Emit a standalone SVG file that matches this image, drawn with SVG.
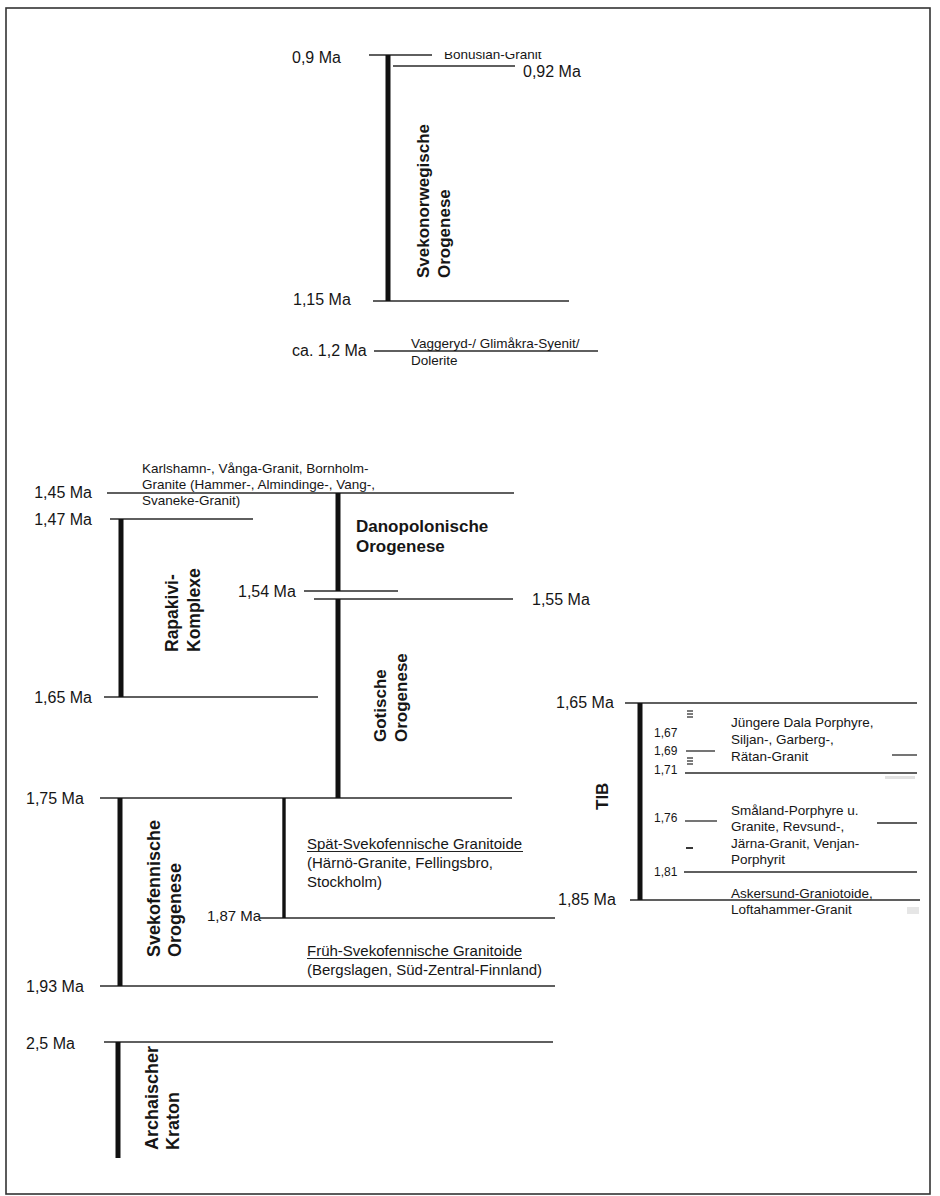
<svg xmlns="http://www.w3.org/2000/svg" width="940" height="1196" viewBox="0 0 940 1196">
<style>
.ln{stroke:#2a2a2a;stroke-width:1.3;fill:none}
.bar{stroke:#111;stroke-width:5;fill:none}
.bar3{stroke:#111;stroke-width:3.4;fill:none}
.tk{stroke:#222;stroke-width:1.2;fill:none}
text{font-family:"Liberation Sans",Arial,sans-serif;fill:#161616}
.lab{font-size:16px}
.sm{font-size:13.5px}
.md{font-size:15px}
.xs{font-size:12px}
.vt{font-size:17px;font-weight:bold}
.vt2{font-size:18px;font-weight:bold}
</style>
<defs>
<clipPath id="cutTop"><rect x="430" y="52" width="140" height="20"/></clipPath>
</defs>
<rect x="6" y="8" width="924" height="1186" fill="#fff" stroke="#333" stroke-width="1.6"/>

<g id="connectors">
<line class="ln" x1="369" y1="55" x2="432" y2="55"/>
<line class="ln" x1="393" y1="66" x2="515" y2="66"/>
<line class="ln" x1="373" y1="301" x2="569" y2="301"/>
<line class="ln" x1="374" y1="351" x2="598" y2="351"/>
<line class="ln" x1="107" y1="493" x2="514" y2="493"/>
<line class="ln" x1="110" y1="519" x2="253" y2="519"/>
<line class="ln" x1="104" y1="697" x2="318" y2="697"/>
<line class="ln" x1="304" y1="591" x2="398" y2="591"/>
<line class="ln" x1="314" y1="599" x2="513" y2="599"/>
<line class="ln" x1="100" y1="798" x2="512" y2="798"/>
<line class="ln" x1="260" y1="918" x2="555" y2="918"/>
<line class="ln" x1="100" y1="986" x2="555" y2="986"/>
<line class="ln" x1="104" y1="1042" x2="553" y2="1042"/>
<line class="ln" x1="625" y1="703" x2="917" y2="703"/>
<line class="ln" x1="686" y1="751" x2="715" y2="751"/>
<line class="ln" x1="892" y1="755" x2="917" y2="755"/>
<line class="ln" x1="685" y1="773" x2="917" y2="773"/>
<line class="ln" x1="685" y1="821" x2="717" y2="821"/>
<line class="ln" x1="877" y1="823" x2="917" y2="823"/>
<line class="ln" x1="684" y1="872" x2="917" y2="872"/>
<line class="ln" x1="630" y1="900" x2="920" y2="900"/>
<line class="tk" x1="687" y1="711" x2="693" y2="711"/>
<line class="tk" x1="687" y1="714" x2="693" y2="714"/>
<line class="tk" x1="687" y1="717" x2="693" y2="717"/>
<line class="tk" x1="687" y1="758" x2="693" y2="758"/>
<line class="tk" x1="687" y1="761" x2="693" y2="761"/>
<line class="tk" x1="687" y1="764" x2="693" y2="764"/>
<line x1="686" y1="848" x2="693" y2="848" stroke="#222" stroke-width="1.8"/>
<rect x="885" y="776" width="30" height="3" fill="#e2e2e2"/>
<rect x="907" y="907" width="12" height="7" fill="#e6e6e6"/>
</g>

<g id="labels-time">
<text class="lab" x="292" y="63">0,9 Ma</text>
<text class="lab" x="523" y="77">0,92 Ma</text>
<text class="lab" x="293" y="305">1,15 Ma</text>
<text class="lab" x="292" y="356">ca. 1,2 Ma</text>
<text class="lab" x="92" y="498" text-anchor="end">1,45 Ma</text>
<text class="lab" x="92" y="525" text-anchor="end">1,47 Ma</text>
<text class="lab" x="92" y="703" text-anchor="end">1,65 Ma</text>
<text class="lab" x="238" y="597">1,54 Ma</text>
<text class="lab" x="532" y="605">1,55 Ma</text>
<text class="lab" x="26" y="804">1,75 Ma</text>
<text class="md" x="207" y="921">1,87 Ma</text>
<text class="lab" x="26" y="992">1,93 Ma</text>
<text class="lab" x="26" y="1049">2,5 Ma</text>
<text class="lab" x="556" y="708">1,65 Ma</text>
<text class="lab" x="558" y="905">1,85 Ma</text>
<text class="xs" x="654" y="737">1,67</text>
<text class="xs" x="654" y="755">1,69</text>
<text class="xs" x="654" y="774">1,71</text>
<text class="xs" x="654" y="822">1,76</text>
<text class="xs" x="654" y="876">1,81</text>
</g>

<g id="svekonorwegische-orogenese">
<line class="bar" x1="388" y1="55" x2="388" y2="301"/>
<text class="vt" transform="translate(429,278) rotate(-90)">Svekonorwegische</text>
<text class="vt" transform="translate(450,278) rotate(-90)">Orogenese</text>
</g>

<g id="bohuslan-granit">
<text class="sm" x="444" y="59" clip-path="url(#cutTop)">Bonusian-Granit</text>
</g>

<g id="vaggeryd">
<text class="sm" x="411" y="348">Vaggeryd-/ Glimåkra-Syenit/</text>
<text class="sm" x="411" y="365">Dolerite</text>
</g>

<g id="karlshamn">
<text class="sm" x="142" y="473">Karlshamn-, Vånga-Granit, Bornholm-</text>
<text class="sm" x="142" y="489">Granite (Hammer-, Almindinge-, Vang-,</text>
<text class="sm" x="142" y="505">Svaneke-Granit)</text>
</g>

<g id="rapakivi">
<line class="bar" x1="121" y1="519" x2="121" y2="697"/>
<text class="vt" transform="translate(178,652) rotate(-90)" style="font-size:17.5px">Rapakivi-</text>
<text class="vt" transform="translate(200,652) rotate(-90)" style="font-size:17.5px">Komplexe</text>
</g>

<g id="danopolonische-orogenese">
<line class="bar" x1="338" y1="493" x2="338" y2="591"/>
<text class="vt" x="356" y="532">Danopolonische</text>
<text class="vt" x="356" y="552">Orogenese</text>
</g>

<g id="gotische-orogenese">
<line class="bar" x1="338" y1="599" x2="338" y2="798"/>
<text class="vt" transform="translate(386,742) rotate(-90)">Gotische</text>
<text class="vt" transform="translate(407,742) rotate(-90)">Orogenese</text>
</g>

<g id="svekofennische-orogenese">
<line class="bar" x1="120" y1="798" x2="120" y2="986"/>
<text class="vt2" transform="translate(160,957) rotate(-90)">Svekofennische</text>
<text class="vt2" transform="translate(181,957) rotate(-90)">Orogenese</text>
</g>

<g id="spaet-svekofennisch">
<line class="bar3" x1="284" y1="798" x2="284" y2="918"/>
<text class="md" x="307" y="849">Spät-Svekofennische Granitoide</text>
<line class="tk" x1="307" y1="851.5" x2="523" y2="851.5"/>
<text class="md" x="307" y="868">(Härnö-Granite, Fellingsbro,</text>
<text class="md" x="307" y="887">Stockholm)</text>
</g>

<g id="frueh-svekofennisch">
<text class="md" x="307" y="956">Früh-Svekofennische Granitoide</text>
<line class="tk" x1="307" y1="958.5" x2="522" y2="958.5"/>
<text class="md" x="307" y="975">(Bergslagen, Süd-Zentral-Finnland)</text>
</g>

<g id="archaischer-kraton">
<line class="bar" x1="118" y1="1042" x2="118" y2="1158"/>
<text class="vt2" transform="translate(158,1150) rotate(-90)">Archaischer</text>
<text class="vt2" transform="translate(179,1150) rotate(-90)">Kraton</text>
</g>

<g id="tib">
<line class="bar" x1="640" y1="703" x2="640" y2="900"/>
<text class="vt" transform="translate(608,810) rotate(-90)">TIB</text>
<text class="sm" x="731" y="727">Jüngere Dala Porphyre,</text>
<text class="sm" x="731" y="744">Siljan-, Garberg-,</text>
<text class="sm" x="731" y="761">Rätan-Granit</text>
<text class="sm" x="731" y="815">Småland-Porphyre u.</text>
<text class="sm" x="731" y="831">Granite, Revsund-,</text>
<text class="sm" x="731" y="848">Järna-Granit, Venjan-</text>
<text class="sm" x="731" y="864">Porphyrit</text>
<text class="sm" x="731" y="898">Askersund-Graniotoide,</text>
<text class="sm" x="731" y="914">Loftahammer-Granit</text>
</g>
</svg>
